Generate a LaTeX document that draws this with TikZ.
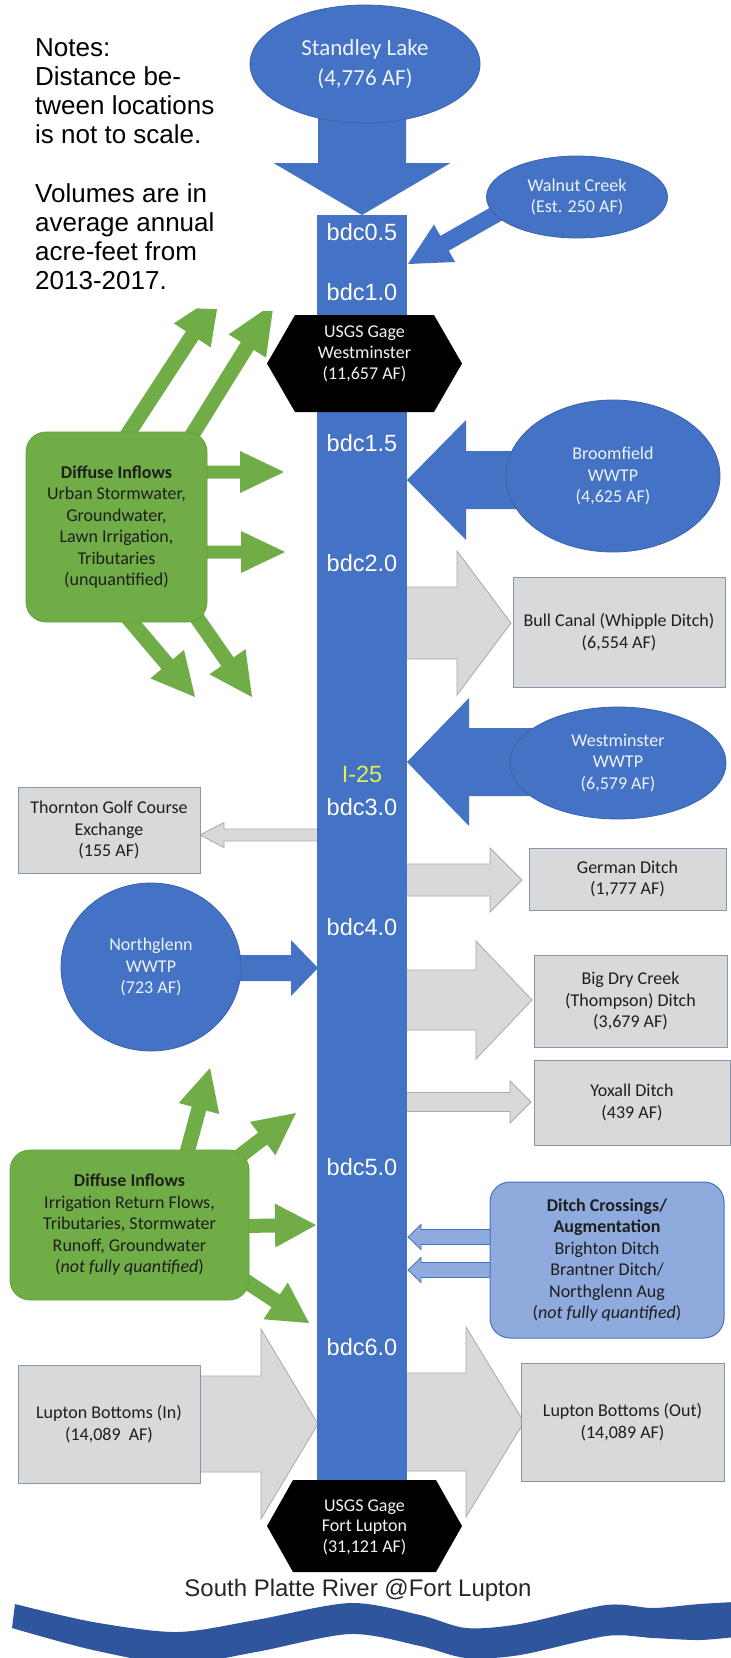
\documentclass[tikz,border=0pt]{standalone}
\usepackage{fontspec}
\setmainfont{Carlito}
\newfontfamily\arialf{Liberation Sans}
\usetikzlibrary{shapes.geometric}
\definecolor{obblue}{HTML}{4472C4}
\definecolor{oboutline}{HTML}{3A62AD}
\definecolor{btext}{HTML}{EEF2FA}
\definecolor{ogreen}{HTML}{70AD47}
\definecolor{ogreenline}{HTML}{62A03C}
\definecolor{dtext}{HTML}{1E1E1E}
\definecolor{ogray}{HTML}{D9D9D9}
\definecolor{ograyline}{HTML}{A9A9A9}
\definecolor{oboxline}{HTML}{8497B0}
\definecolor{olblue}{HTML}{8FAADC}
\definecolor{iyellow}{HTML}{E2EE52}
\definecolor{riverblue}{HTML}{2F569C}
\newcommand\blockarr[8]{%
 \pgfmathsetmacro\baDx{(#4)-(#2)}%
 \pgfmathsetmacro\baDy{(#5)-(#3)}%
 \pgfmathsetmacro\baL{veclen(\baDx,\baDy)}%
 \pgfmathsetmacro\baUx{(\baDx)/(\baL)}%
 \pgfmathsetmacro\baUy{(\baDy)/(\baL)}%
 \pgfmathsetmacro\baBx{(#4)-(\baUx)*(#8)}%
 \pgfmathsetmacro\baBy{(#5)-(\baUy)*(#8)}%
 \pgfmathsetmacro\baPx{-1*(\baUy)}%
 \pgfmathsetmacro\baPy{\baUx}%
 \path[#1] ({(#2)+(\baPx)*(#6)},{(#3)+(\baPy)*(#6)})
   -- ({(\baBx)+(\baPx)*(#6)},{(\baBy)+(\baPy)*(#6)})
   -- ({(\baBx)+(\baPx)*(#7)},{(\baBy)+(\baPy)*(#7)})
   -- (#4,#5)
   -- ({(\baBx)-(\baPx)*(#7)},{(\baBy)-(\baPy)*(#7)})
   -- ({(\baBx)-(\baPx)*(#6)},{(\baBy)-(\baPy)*(#6)})
   -- ({(#2)-(\baPx)*(#6)},{(#3)-(\baPy)*(#6)}) -- cycle;}
\begin{document}
\begin{tikzpicture}[x=1pt,y=-1pt,
  every node/.style={inner sep=0pt},
  bluearr/.style={fill=obblue},
  grayarr/.style={fill=ogray, draw=ograyline, line width=0.8pt},
  greenarr/.style={fill=ogreen},
  lbarr/.style={fill=olblue, draw=obblue, line width=0.8pt},
  btxt/.style={text=btext, align=center, font=\fontsize{18}{21.5}\selectfont},
  dtxt/.style={text=dtext, align=center, font=\fontsize{18}{21.5}\selectfont},
  blueell/.style={ellipse, fill=obblue, draw=oboutline, line width=0.8pt, btxt},
  graybox/.style={rectangle, fill=ogray, draw=oboxline, line width=1pt, dtxt},
  greenbox/.style={rectangle, rounded corners=20pt, fill=ogreen, draw=ogreenline, line width=0.8pt, dtxt},
  bdclabel/.style={text=white, font=\arialf\fontsize{23.5}{26}\selectfont}]
\useasboundingbox (0,0) rectangle (731,1658);
\clip (0,0) rectangle (731,1658);
\fill[white] (0,0) rectangle (731,1658);

% green arrows, upper group (tips cut by the notes area)
\begin{scope}
\clip (0,301) -- (320,313) -- (320,700) -- (0,700) -- cycle;
\blockarr{greenarr}{124}{440}{219.6}{293.5}{7.5}{22}{50}
\blockarr{greenarr}{189}{440}{273.7}{303.5}{7.5}{22}{50}
\end{scope}
\blockarr{greenarr}{180}{472}{284}{472}{6.5}{21}{44}
\blockarr{greenarr}{180}{552}{285}{552}{6.5}{21}{44}
\blockarr{greenarr}{123}{612}{195}{697}{7.5}{22}{43}
\blockarr{greenarr}{188}{605}{252}{697}{7.5}{22}{43}
% green arrows, lower group
\blockarr{greenarr}{185}{1160}{210}{1068}{7.5}{21}{42}
\blockarr{greenarr}{232}{1162}{296}{1113}{7.5}{21}{42}
\blockarr{greenarr}{240}{1226}{316}{1225}{7}{22}{41}
\blockarr{greenarr}{238}{1276}{309}{1323}{7.5}{22}{40}

% grey diversion arrows
\blockarr{grayarr}{400}{623}{511}{623}{36}{72}{54}
\blockarr{grayarr}{325}{835}{200}{835}{6}{12.5}{24}
\blockarr{grayarr}{400}{880}{522}{880}{16}{32}{32}
\blockarr{grayarr}{400}{1000}{532}{1000}{30}{59}{56}
\blockarr{grayarr}{400}{1102}{531}{1102}{9.5}{21}{21}
\blockarr{grayarr}{190}{1424}{318}{1424}{48}{95}{57}
\blockarr{grayarr}{400}{1422}{524}{1422}{49}{95}{58}

% blue inflow arrows
\blockarr{bluearr}{362}{64}{362}{215}{44}{88.5}{52}
\blockarr{bluearr}{505}{209}{408}{264}{8.5}{21.5}{42}
\blockarr{bluearr}{560}{480}{407}{480}{29}{60}{59}
\blockarr{bluearr}{570}{762}{407}{762}{34}{64}{62}
\blockarr{bluearr}{150}{968}{318}{968}{13}{28}{27}

% ditch crossing arrows
\blockarr{lbarr}{492}{1237}{408}{1237}{7.5}{12.5}{13}
\blockarr{lbarr}{492}{1270}{408}{1270}{7.5}{12.5}{13}

% main channel
\node[rectangle, fill=obblue, minimum width=90, minimum height=1270, anchor=north] (creek) at (362,215) {};

% blue sources
\node[blueell, minimum width=230, minimum height=118, font=\fontsize{23}{30}\selectfont] (standley) at (365,64) {Standley Lake\\(4,776 AF)};
\node[blueell, minimum width=181, minimum height=82] (walnut) at (577,197) {Walnut Creek\\(Est. 250 AF)};
\node[blueell, minimum width=214, minimum height=152] (broom) at (613,476) {Broomfield\\WWTP\\(4,625 AF)};
\node[blueell, minimum width=216, minimum height=112] (westw) at (618,763) {Westminster\\WWTP\\(6,579 AF)};
\node[blueell, minimum width=180, minimum height=168] (northg) at (151,967) {Northglenn\\WWTP\\(723 AF)};

% grey boxes
\node[graybox, minimum width=212, minimum height=110] (bull) at (619,632) {Bull Canal (Whipple Ditch)\\(6,554 AF)};
\node[graybox, minimum width=182, minimum height=86] (thornton) at (109,830) {Thornton Golf Course\\Exchange\\(155 AF)};
\node[graybox, minimum width=197, minimum height=62] (german) at (627.5,879) {German Ditch\\(1,777 AF)};
\node[graybox, minimum width=193, minimum height=92] (bigdry) at (630.5,1001) {Big Dry Creek\\(Thompson) Ditch\\(3,679 AF)};
\node[graybox, minimum width=196, minimum height=85] (yoxall) at (632,1102.5) {Yoxall Ditch\\(439 AF)};
\node[graybox, minimum width=182, minimum height=118] (luptonin) at (109,1424) {Lupton Bottoms (In)\\(14,089~ AF)};
\node[graybox, minimum width=203, minimum height=118] (luptonout) at (622.5,1422) {Lupton Bottoms (Out)\\(14,089 AF)};

% green boxes
\node[greenbox, minimum width=181, minimum height=190] (diff1) at (116.5,527) {\textbf{Diffuse Inflows}\\Urban Stormwater,\\Groundwater,\\Lawn Irrigation,\\Tributaries\\(unquantified)};
\node[greenbox, minimum width=239, minimum height=150] (diff2) at (129.5,1225) {\textbf{Diffuse Inflows}\\Irrigation Return Flows,\\Tributaries, Stormwater\\Runoff, Groundwater\\(\textit{not fully quantified})};

% ditch crossings box
\node[rectangle, rounded corners=20pt, fill=olblue, draw=obblue, line width=1pt, dtxt, minimum width=234, minimum height=156] (ditchx) at (607,1260) {\textbf{Ditch Crossings/}\\\textbf{Augmentation}\\Brighton Ditch\\Brantner Ditch/\\Northglenn Aug\\(\textit{not fully quantified})};

% gages
\fill[black] (267,363.5) -- (295,315) -- (434,315) -- (462,363.5) -- (434,412) -- (295,412) -- cycle;
\node[btxt, font=\fontsize{18}{21}\selectfont] (gagewest) at (364.5,354) {USGS Gage\\Westminster\\(11,657 AF)};
\fill[black] (267,1526) -- (293,1480) -- (436,1480) -- (462,1526) -- (436,1572) -- (293,1572) -- cycle;
\node[btxt, font=\fontsize{18}{20.5}\selectfont] (gagefl) at (364.5,1527) {USGS Gage\\Fort Lupton\\(31,121 AF)};

% station labels
\node[bdclabel] (b05) at (362,232) {bdc0.5};
\node[bdclabel] (b10) at (362,292) {bdc1.0};
\node[bdclabel] (b15) at (362,443) {bdc1.5};
\node[bdclabel] (b20) at (362,563) {bdc2.0};
\node[bdclabel, text=iyellow] (i25) at (362,774) {I-25};
\node[bdclabel] (b30) at (362,807) {bdc3.0};
\node[bdclabel] (b40) at (362,927) {bdc4.0};
\node[bdclabel] (b50) at (362,1167) {bdc5.0};
\node[bdclabel] (b60) at (362,1347) {bdc6.0};

% notes
\node[anchor=north west, align=left, text=black, font=\arialf\fontsize{26}{29.2}\selectfont] (notes) at (35,38) {Notes:\\Distance be-\\tween locations\\is not to scale.\\[29.2pt]Volumes are in\\average annual\\acre-feet from\\2013-2017.};

% river
\node[text=black!85, font=\arialf\fontsize{24}{28}\selectfont] (spr) at (358,1590) {South Platte River @Fort Lupton};
\fill[riverblue] plot[smooth] coordinates {(15,1604) (93,1622) (177,1632) (256,1620) (350,1603) (420,1615) (466,1628) (520,1624) (606,1605) (653,1608) (699,1604) (735,1602)}
  -- plot[smooth] coordinates {(735,1637) (699,1640) (653,1638) (606,1636) (520,1655) (466,1658) (420,1646) (350,1634) (256,1652) (177,1664) (93,1650) (12,1628)} -- cycle;
\end{tikzpicture}
\end{document}
